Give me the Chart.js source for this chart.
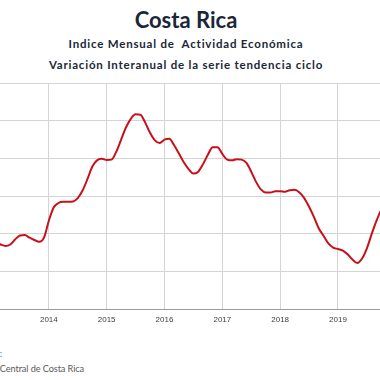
<!DOCTYPE html>
<html>
<head>
<meta charset="utf-8">
<script src="https://cdn.jsdelivr.net/npm/chart.js@4.4.1/dist/chart.umd.min.js"></script>
<style>
  html, body { margin:0; padding:0; width:380px; height:380px; overflow:hidden; background:#fff; }
  .t { position:absolute; left:0; width:372px; text-align:center; color:#1b2738; font-family:"Lato","DejaVu Sans",sans-serif; font-weight:bold; white-space:nowrap; }
  #wrap { position:absolute; left:-29px; top:73px; width:430px; height:267px; }
  .f { position:absolute; font-family:"Lato","Liberation Sans",sans-serif; font-size:9.2px; letter-spacing:-0.1px; white-space:nowrap; text-align:right; }
</style>
</head>
<body>
<div class="t" style="top:6px;font-size:22px;">Costa Rica</div>
<div class="t" style="top:37px;font-size:11.5px;letter-spacing:0.8px;">Indice Mensual de&nbsp; Actividad Económica</div>
<div class="t" style="top:58px;font-size:11.5px;letter-spacing:0.8px;">Variación Interanual de la serie tendencia ciclo</div>
<div id="wrap"><canvas id="c"></canvas></div>
<div class="f" style="left:-200px;width:202px;top:348px;color:#2e75b6;">Fuente:</div>
<div class="f" style="left:-200px;width:284px;top:363px;color:#595959;">Banco Central de Costa Rica</div>
<script>
// Monthly data, Jan 2013 .. Dec 2019
const years = [2013, 2014, 2015, 2016, 2017, 2018, 2019];
const values = [
  1.85, 1.78, 1.72, 1.68, 1.72, 1.85, 1.96, 1.97, 1.90, 1.84, 1.79, 1.90,
  2.35, 2.70, 2.82, 2.85, 2.85, 2.86, 2.95, 3.15, 3.45, 3.78, 3.95, 3.99,
  3.96, 3.97, 4.18, 4.50, 4.82, 5.05, 5.17, 5.16, 4.95, 4.68, 4.48, 4.41,
  4.50, 4.52, 4.35, 4.13, 3.90, 3.72, 3.60, 3.65, 3.85, 4.10, 4.30, 4.30,
  4.12, 3.97, 3.95, 3.98, 3.97, 3.88, 3.65, 3.38, 3.18, 3.10, 3.10, 3.13,
  3.13, 3.12, 3.16, 3.17, 3.10, 2.95, 2.72, 2.45, 2.15, 1.95, 1.75, 1.64,
  1.60, 1.56, 1.46, 1.32, 1.23, 1.35, 1.62, 2.00, 2.35, 2.65, 2.85, 2.95
];
const yTicks = [0, 1, 2, 3, 4, 5, 6];

const labels = [];
years.forEach(y => { for (let m = 0; m < 12; m++) labels.push(m === 0 ? String(y) : ''); });

new Chart(document.getElementById('c'), {
  type: 'line',
  data: {
    labels: labels,
    datasets: [{
      data: values,
      borderColor: '#c8101a',
      borderWidth: 2,
      pointRadius: 0,
      tension: 0.4,
      cubicInterpolationMode: 'monotone',
      fill: false
    }]
  },
  options: {
    responsive: true,
    maintainAspectRatio: false,
    animation: false,
    layout: { padding: { left: 20, right: 10, top: 10, bottom: 9 } },
    plugins: { legend: { display: false }, title: { display: false }, tooltip: { enabled: false } },
    scales: {
      x: {
        offset: false,
        grid: {
          drawTicks: false,
          color: (ctx) => (ctx.tick && ctx.tick.label !== '') ? '#d4d4d4' : 'rgba(0,0,0,0)',
          lineWidth: 1
        },
        border: { display: true, color: '#9a9a9a', width: 1 },
        ticks: {
          autoSkip: false,
          maxRotation: 0,
          padding: 6,
          color: '#404040',
          font: { family: 'Liberation Sans', size: 8 }
        }
      },
      y: {
        min: yTicks[0],
        max: yTicks[yTicks.length - 1],
        afterBuildTicks: (s) => { s.ticks = yTicks.map(v => ({ value: v })); },
        grid: { drawTicks: false, color: '#d4d4d4', lineWidth: 1 },
        border: { display: false },
        ticks: { display: false }
      }
    }
  }
});
</script>
</body>
</html>
